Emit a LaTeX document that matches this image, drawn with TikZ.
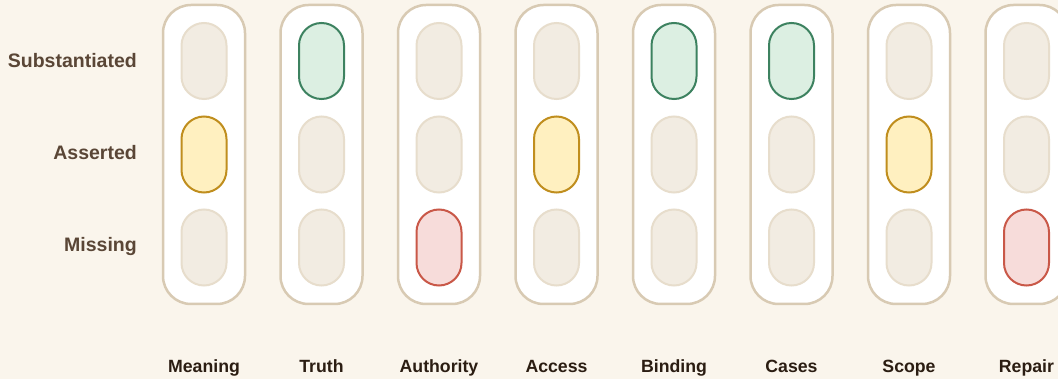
\documentclass[tikz,border=0pt]{standalone}
\usepackage{fontspec}
\setmainfont{Liberation Sans}
\definecolor{bg}{HTML}{FAF5EC}
\definecolor{colframe}{HTML}{D8CAB3}
\definecolor{emptyfill}{HTML}{F2ECE2}
\definecolor{emptydraw}{HTML}{E7DDCC}
\definecolor{subfill}{HTML}{DCEFE2}
\definecolor{subdraw}{HTML}{3D8260}
\definecolor{assfill}{HTML}{FFF0C0}
\definecolor{assdraw}{HTML}{C08E1E}
\definecolor{misfill}{HTML}{F7DCDA}
\definecolor{misdraw}{HTML}{C95848}
\definecolor{rowtxt}{HTML}{5A4636}
\definecolor{coltxt}{HTML}{2B1D12}
\tikzset{
  colbox/.style={draw=colframe, fill=white, line width=2.5pt, rounded corners=28pt},
  pill/.style={rectangle, rounded corners=22.5pt, minimum width=45pt, minimum height=76pt, inner sep=0pt, line width=2pt},
  pE/.style={pill, draw=emptydraw, fill=emptyfill},
  pS/.style={pill, draw=subdraw, fill=subfill},
  pA/.style={pill, draw=assdraw, fill=assfill},
  pM/.style={pill, draw=misdraw, fill=misfill},
  rowlab/.style={anchor=east, inner sep=0pt, text=rowtxt, font=\fontsize{19.5}{22}\selectfont\bfseries},
  collab/.style={anchor=base, inner sep=0pt, text=coltxt, font=\fontsize{17.7}{20}\selectfont\bfseries},
}
\begin{document}
\begin{tikzpicture}[x=1pt,y=-1pt]
\useasboundingbox (0,0) rectangle (1058,379);
\fill[bg] (0,0) rectangle (1058,379);
\clip (0,0) rectangle (1058,379);
\node[rowlab] (rS) at (137,61) {Substantiated};
\node[rowlab] (rA) at (137,153) {Asserted};
\node[rowlab] (rM) at (137,247) {Missing};
\foreach \i/\name/\st in {0/Meaning/A,1/Truth/S,2/Authority/M,3/Access/A,4/Binding/S,5/Cases/S,6/Scope/A,7/Repair/M}{
  \pgfmathsetmacro{\cx}{204+117.5*\i}
  \draw[colbox] (\cx-41,5) rectangle (\cx+41,304);
  \def\sS{pE}\def\sA{pE}\def\sM{pE}
  \expandafter\def\csname s\st\endcsname{p\st}
  \node[\sS] (c\i S) at (\cx,61) {};
  \node[\sA] (c\i A) at (\cx,154.5) {};
  \node[\sM] (c\i M) at (\cx,247.5) {};
  \node[collab] (l\i) at (\cx,372.7) {\name};
}
\end{tikzpicture}
\end{document}
